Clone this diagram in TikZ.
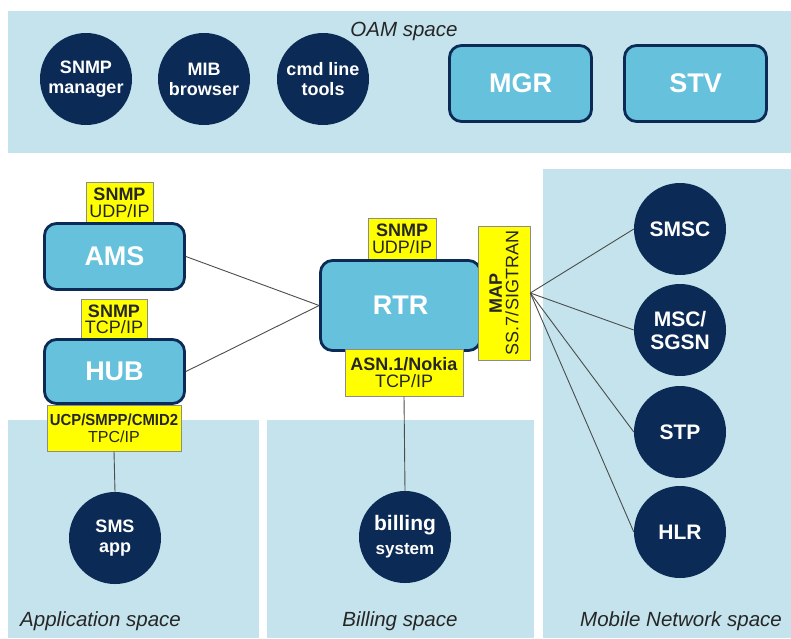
\documentclass[tikz,border=0pt]{standalone}
\usepackage{fontspec}
\setmainfont{Liberation Sans}
\definecolor{spacebg}{HTML}{C4E3ED}
\definecolor{boxblue}{HTML}{66C1DD}
\definecolor{navy}{HTML}{0B2A55}
\definecolor{ylw}{HTML}{FFFF00}
\begin{document}
\begin{tikzpicture}[x=1pt,y=-1pt,
  spacearea/.style={fill=spacebg,draw=none},
  bluebox/.style={draw=navy,line width=2.8pt,fill=boxblue,rounded corners=12pt,text=white,inner sep=0pt,font=\fontsize{27}{27}\selectfont\bfseries},
  circ/.style={circle,fill=navy,text=white,minimum size=92pt,inner sep=0pt,align=center,font=\fontsize{18}{20}\selectfont\bfseries},
  bigcirc/.style={circ,font=\fontsize{21}{23}\selectfont\bfseries},
  ylab/.style={draw=black!45,line width=0.6pt,fill=ylw,inner sep=0pt,align=center,text=black!85,font=\fontsize{18}{16.5}\selectfont},
  link/.style={draw=black!70,line width=0.9pt},
  spacelabel/.style={font=\fontsize{20.5}{21}\selectfont\itshape,text=black!85,inner sep=0pt}]
\useasboundingbox (0,0) rectangle (791,638);
% space areas
\fill[spacearea] (8,11) rectangle (791,153);
\fill[spacearea] (8,420) rectangle (259,638);
\fill[spacearea] (267,420) rectangle (534,638);
\fill[spacearea] (543,169) rectangle (791,638);
% space labels
\node[spacelabel] (oaml) at (404,31) {OAM space};
\node[spacelabel,anchor=west] (appl) at (20,621) {Application space};
\node[spacelabel] (bill) at (400,621) {Billing space};
\node[spacelabel] (mobl) at (681,621) {Mobile Network space};
% OAM circles and boxes
\node[circ] (snmpm) at (86,79) {SNMP\\manager};
\node[circ] (mib) at (204,79) {MIB\\browser};
\node[circ] (cmd) at (323,79) {cmd line\\tools};
\node[bluebox,minimum width=142pt,minimum height=76pt] (mgr) at (520.5,83.5) {MGR};
\node[bluebox,minimum width=142pt,minimum height=76pt] (stv) at (695.5,83.5) {STV};
% labels behind the upper boxes
\node[ylab,minimum width=67pt,minimum height=42pt] (amsl) at (119.5,203) {\textbf{SNMP}\\UDP/IP};
\node[ylab,minimum width=66pt,minimum height=40pt] (hubl) at (114,319.5) {\textbf{SNMP}\\TCP/IP};
\node[ylab,minimum width=68pt,minimum height=42pt] (rtrl) at (402,239) {\textbf{SNMP}\\UDP/IP};
% main boxes
\node[bluebox,minimum width=140pt,minimum height=66pt] (ams) at (114.5,256.5) {AMS};
\node[bluebox,minimum width=140pt,minimum height=64pt] (hub) at (114.5,371.5) {HUB};
\node[bluebox,minimum width=160pt,minimum height=90pt] (rtr) at (400.5,305.5) {RTR};
% labels over the boxes
\node[ylab,minimum width=134pt,minimum height=46pt,font=\fontsize{16}{17}\selectfont] (ucpl) at (114,428) {\textbf{\scalebox{0.93}[1]{UCP/SMPP/CMID2}}\\TPC/IP};
\node[ylab,minimum width=118pt,minimum height=47pt] (asnl) at (404,372.5) {\textbf{ASN.1/Nokia}\\TCP/IP};
\node[ylab,rotate=90,minimum width=134pt,minimum height=52pt] (mapl) at (504,293) {\textbf{MAP}\\SS.7/SIGTRAN};
% lower circles
\node[circ] (sms) at (115,538) {SMS\\app};
\node[circ,font=\fontsize{17}{24}\selectfont\bfseries] (billing) at (405,537) {{\fontsize{21}{24}\selectfont billing}\\system};
\node[bigcirc] (smsc) at (680,229) {SMSC};
\node[bigcirc] (msc) at (680,330) {MSC/\\SGSN};
\node[bigcirc] (stp) at (680,432) {STP};
\node[bigcirc] (hlr) at (680,532) {HLR};
% connectors
\draw[link] (ams.east) -- (rtr.west);
\draw[link] (hub.east) -- (rtr.west);
\draw[link] (ucpl.south) -- (sms.north);
\draw[link] (asnl.south) -- (billing.north);
\draw[link] (mapl.south) -- (smsc.west);
\draw[link] (mapl.south) -- (msc.west);
\draw[link] (mapl.south) -- (stp.west);
\draw[link] (mapl.south) -- (hlr.west);
\end{tikzpicture}
\end{document}
